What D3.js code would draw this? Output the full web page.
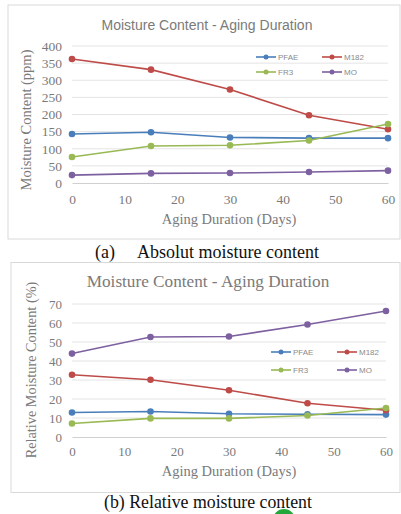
<!DOCTYPE html>
<html>
<head>
<meta charset="utf-8">
<script src="https://cdn.jsdelivr.net/npm/d3@7"></script>
<style>
  body { margin: 0; background: #fff; overflow: hidden; }
  svg { display: block; }
  .serif { font-family: "Liberation Serif", "DejaVu Serif", serif; }
  .sans { font-family: "Liberation Sans", "Open Sans", sans-serif; }
</style>
</head>
<body>
<script>
// aging days on the x axis
var days = [0, 15, 30, 45, 60];
var seriesNames = ["PFAE", "M182", "FR3", "MO"];
var seriesColors = ["#4a7ebb", "#be4b48", "#98b954", "#7d60a0"];

// (a) absolute moisture content, ppm
var absPFAE = [143, 148, 133, 131, 131];
var absM182 = [362, 331, 273, 198, 157];
var absFR3  = [76, 108, 110, 124, 172];
var absMO   = [23, 28, 29, 32, 36];

// (b) relative moisture content, %
var relPFAE = [12.9, 13.4, 12.2, 12.0, 11.8];
var relM182 = [32.8, 30.1, 24.6, 17.8, 14.1];
var relFR3  = [7.1, 9.8, 9.8, 11.3, 15.3];
var relMO   = [43.9, 52.6, 52.9, 59.2, 66.3];

var xTicks = [0, 10, 20, 30, 40, 50, 60];
var absTicks = [0, 50, 100, 150, 200, 250, 300, 350, 400];
var relTicks = [0, 10, 20, 30, 40, 50, 60, 70];

var width = 401, height = 514;
var svg = d3.select("body").append("svg")
    .attr("width", width)
    .attr("height", height);

function drawChart(opt) {
  var g = svg.append("g");

  g.append("rect")
      .attr("x", opt.frame[0]).attr("y", opt.frame[1])
      .attr("width", opt.frame[2]).attr("height", opt.frame[3])
      .attr("fill", "#fff").attr("stroke", "#d9d9d9");

  var x = d3.scaleLinear().domain([0, 60]).range([72, opt.right]);
  var y = d3.scaleLinear().domain([0, opt.yMax]).range([opt.bottom, opt.top]);

  // gridlines
  g.append("g").selectAll("line")
    .data(opt.yTicks.slice(1))
    .enter().append("line")
      .attr("x1", x(0)).attr("x2", x(60))
      .attr("y1", d => y(d)).attr("y2", d => y(d))
      .attr("stroke", "#e4e4e4").attr("stroke-width", 1);

  // y axis
  var yAxis = g.append("g")
      .attr("transform", `translate(${x(0) - 8},0)`)
      .call(d3.axisLeft(y).tickValues(opt.yTicks).tickSize(0).tickPadding(2));
  yAxis.select(".domain").remove();
  yAxis.attr("font-family", null);
  yAxis.selectAll("text")
      .attr("class", "serif")
      .style("font-size", opt.tickSize + "px")
      .attr("fill", "#7a7a7a");

  // x axis
  var xAxis = g.append("g")
      .attr("transform", `translate(0,${opt.bottom})`)
      .call(d3.axisBottom(x).tickValues(xTicks).tickSize(0).tickPadding(opt.xPad));
  xAxis.attr("font-family", null);
  xAxis.select(".domain").attr("stroke", "#d0d0d0");
  xAxis.selectAll("text")
      .attr("class", "serif")
      .style("font-size", opt.tickSize + "px")
      .attr("fill", "#7a7a7a");

  // titles
  g.append("text")
      .attr("class", opt.titleClass)
      .attr("x", opt.titleX).attr("y", opt.titleY)
      .attr("text-anchor", "middle")
      .style("font-size", opt.titleSize + "px")
      .attr("fill", "#7a7a7a")
      .text("Moisture Content - Aging Duration");

  g.append("text")
      .attr("class", "serif")
      .attr("x", 229).attr("y", opt.xTitleY)
      .attr("text-anchor", "middle")
      .style("font-size", "14.5px")
      .attr("fill", "#7a7a7a")
      .text("Aging Duration (Days)");

  g.append("text")
      .attr("class", "serif")
      .attr("transform", `translate(${opt.yTitleX},${opt.yTitleY}) rotate(-90)`)
      .attr("text-anchor", "middle")
      .style("font-size", opt.yTitleSize + "px")
      .attr("fill", "#7a7a7a")
      .text(opt.yTitle);

  // series
  var line = d3.line().x((d, i) => x(days[i])).y(d => y(d));
  opt.series.forEach((vals, k) => {
    g.append("path")
        .attr("d", line(vals))
        .attr("fill", "none")
        .attr("stroke", seriesColors[k])
        .attr("stroke-width", 1.6);
    g.append("g").selectAll("circle")
      .data(vals)
      .enter().append("circle")
        .attr("cx", (d, i) => x(days[i]))
        .attr("cy", d => y(d))
        .attr("r", 3.3)
        .attr("fill", seriesColors[k]);
  });

  // legend, two columns
  seriesNames.forEach((name, k) => {
    var lx = opt.legX + (k % 2) * opt.legDx;
    var ly = opt.legY + Math.floor(k / 2) * opt.legDy;
    g.append("line")
        .attr("x1", lx).attr("x2", lx + 20)
        .attr("y1", ly).attr("y2", ly)
        .attr("stroke", seriesColors[k]).attr("stroke-width", 1.6);
    g.append("circle")
        .attr("cx", lx + 10).attr("cy", ly).attr("r", 2.5)
        .attr("fill", seriesColors[k]);
    g.append("text")
        .attr("class", "sans")
        .attr("x", lx + 22).attr("y", ly + 3)
        .style("font-size", "8px")
        .attr("fill", "#8a8a8a")
        .text(name);
  });
}

drawChart({
  frame: [8, 5, 392, 234],
  right: 388, top: 46, bottom: 183, yMax: 400,
  yTicks: absTicks, tickSize: 13.5, xPad: 11,
  titleX: 207, titleY: 30, titleClass: "sans", titleSize: 14,
  xTitleY: 224, yTitleX: 31, yTitleY: 120, yTitleSize: 14.5,
  yTitle: "Moisture Content (ppm)",
  series: [absPFAE, absM182, absFR3, absMO],
  legX: 256, legY: 57, legDx: 66, legDy: 15
});

drawChart({
  frame: [11, 262.5, 389, 230],
  right: 386, top: 304, bottom: 437, yMax: 70,
  yTicks: relTicks, tickSize: 13, xPad: 10,
  titleX: 208, titleY: 287, titleClass: "serif", titleSize: 17.2,
  xTitleY: 476, yTitleX: 36, yTitleY: 370, yTitleSize: 14.3,
  yTitle: "Relative Moisture Content (%)",
  series: [relPFAE, relM182, relFR3, relMO],
  legX: 271, legY: 352, legDx: 66, legDy: 18
});

// captions below each panel
svg.append("text")
    .attr("class", "serif")
    .attr("x", 95).attr("y", 258)
    .style("font-size", "18px")
    .attr("fill", "#111")
    .text("(a)");

svg.append("text")
    .attr("class", "serif")
    .attr("x", 137).attr("y", 258)
    .style("font-size", "18px")
    .attr("fill", "#111")
    .text("Absolut moisture content");

svg.append("text")
    .attr("class", "serif")
    .attr("x", 208).attr("y", 508)
    .attr("text-anchor", "middle")
    .style("font-size", "17.8px")
    .attr("fill", "#111")
    .text("(b) Relative moisture content");

// green mark peeking in at the bottom edge
svg.append("circle")
    .attr("cx", 284).attr("cy", 520).attr("r", 11)
    .attr("fill", "#22a83a");
</script>
</body>
</html>
